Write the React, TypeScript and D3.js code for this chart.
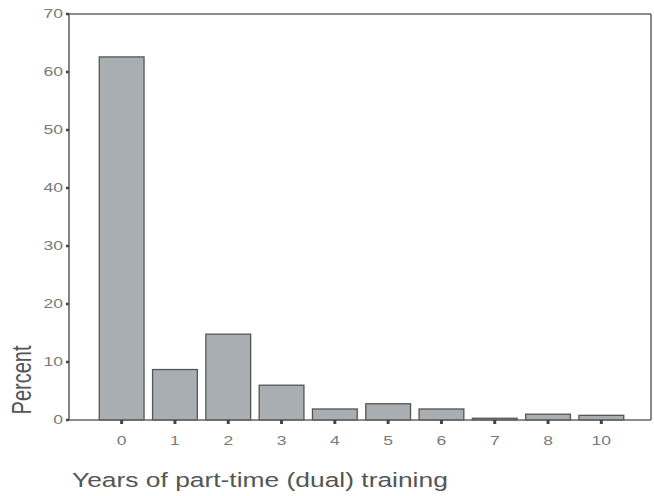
import React from "react";
import * as d3 from "d3";

const categories: string[] = ["0", "1", "2", "3", "4", "5", "6", "7", "8", "10"];
const percents: number[] = [62.6, 8.7, 14.8, 6.0, 1.9, 2.8, 1.9, 0.3, 1.0, 0.8];
const yTicks: number[] = [0, 10, 20, 30, 40, 50, 60, 70];
const xTitle = "Years of part-time (dual) training";
const yTitle = "Percent";

const W = 654;
const H = 496;
const left = 69;
const right = 651;
const top = 14;
const bottom = 420;
const SX = 1.3;

export default function App() {
  const x = d3
    .scaleBand<string>()
    .domain(categories)
    .range([95, 628])
    .paddingInner(0.16)
    .paddingOuter(0.08);
  const y = d3.scaleLinear().domain([0, 70]).range([bottom, top]);
  const labelColor = "#7a7a7a";
  const axisColor = "#666";
  const font = "Liberation Sans, Arial, sans-serif";

  return (
    <svg
      width={W}
      height={H}
      style={{ position: "absolute", left: 0, top: 0, background: "#fff" }}
      fontFamily={font}
    >
      <rect x={0} y={0} width={W} height={H} fill="#fff" />
      {categories.map((c, i) => (
        <rect
          key={c}
          x={x(c)}
          y={y(percents[i])}
          width={x.bandwidth()}
          height={y(0) - y(percents[i])}
          fill="#a9aeb3"
          stroke="#555"
          strokeWidth={1.3}
        />
      ))}
      {/* frame */}
      <line x1={left} x2={right} y1={top} y2={top} stroke={axisColor} strokeWidth={1.5} />
      <line x1={right} x2={right} y1={top} y2={bottom} stroke={axisColor} strokeWidth={1.5} />
      <line x1={left} x2={left} y1={top} y2={bottom} stroke={axisColor} strokeWidth={1.6} />
      <line x1={left} x2={right} y1={bottom} y2={bottom} stroke={axisColor} strokeWidth={1.6} />
      {/* y ticks */}
      {yTicks.map((t) => (
        <g key={t}>
          <line x1={left - 3} x2={left} y1={y(t)} y2={y(t)} stroke="#444" strokeWidth={2.5} />
          <text
            transform={`translate(${left - 6},${y(t)}) scale(${SX},1)`}
            textAnchor="end"
            dominantBaseline="middle"
            fontSize={13.5}
            fill={labelColor}
          >
            {t}
          </text>
        </g>
      ))}
      {/* x ticks */}
      {categories.map((c) => {
        const cx = (x(c) as number) + x.bandwidth() / 2;
        return (
          <g key={c}>
            <line x1={cx} x2={cx} y1={bottom} y2={bottom + 4} stroke="#444" strokeWidth={3} />
            <text
              transform={`translate(${cx},445) scale(${SX},1)`}
              textAnchor="middle"
              fontSize={13.5}
              fill={labelColor}
            >
              {c}
            </text>
          </g>
        );
      })}
      <text
        transform={`translate(72,487) scale(${SX},1)`}
        textAnchor="start"
        fontSize={20.3}
        fill="#555"
      >
        {xTitle}
      </text>
      <text
        transform={`translate(31,380) scale(1.4,1) rotate(-90)`}
        textAnchor="middle"
        fontSize={20}
        fill="#555"
      >
        {yTitle}
      </text>
    </svg>
  );
}
